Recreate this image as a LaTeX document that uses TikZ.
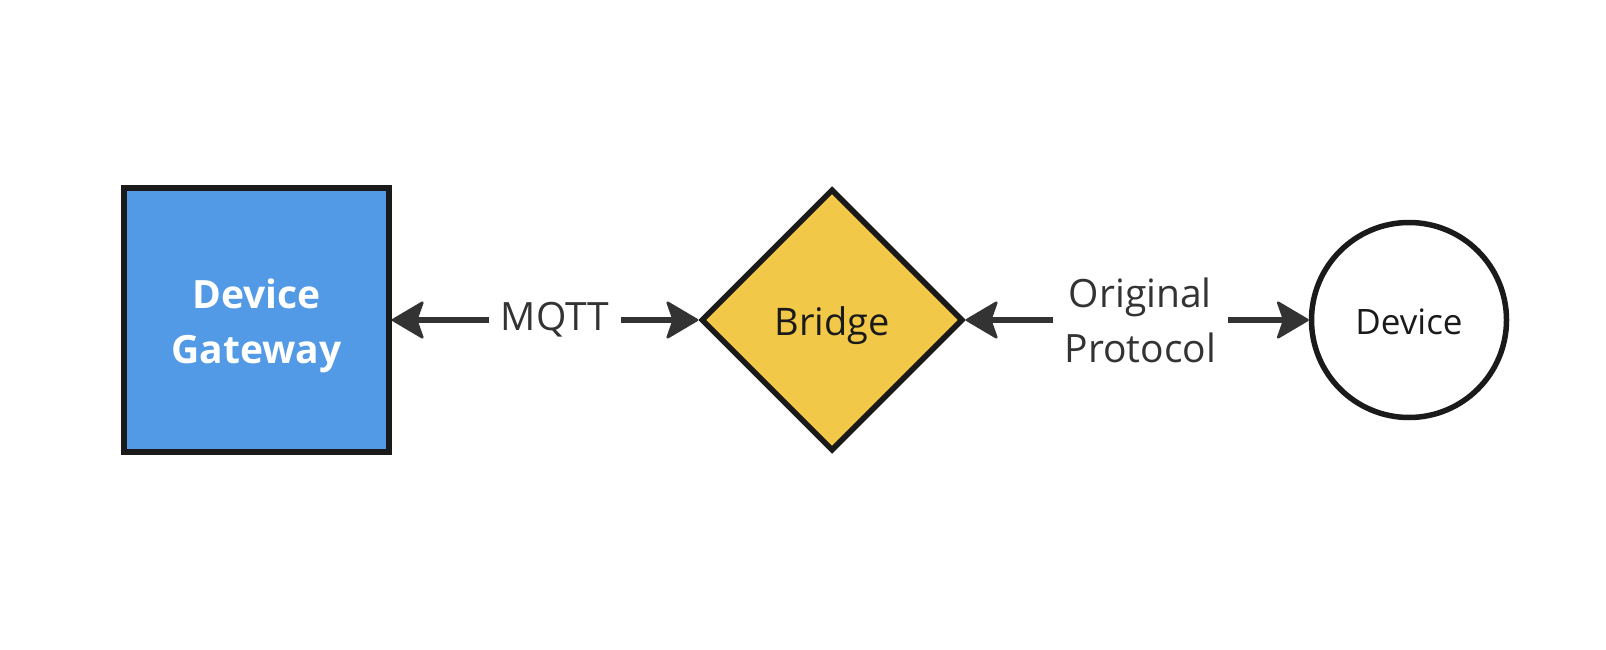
\documentclass[tikz,border=0pt]{standalone}
\usepackage{fontspec}
\setmainfont{Open Sans}
\usetikzlibrary{arrows.meta,shapes.geometric}
\definecolor{gwblue}{RGB}{82,153,230}
\definecolor{bryellow}{RGB}{242,200,72}
\definecolor{strokedark}{RGB}{26,26,26}
\definecolor{arrowgray}{RGB}{51,51,51}
\begin{document}
\begin{tikzpicture}[x=1pt,y=-1pt,
  shapebox/.style={draw=strokedark, line width=5.5pt, inner sep=0pt},
  conn/.style={draw=arrowgray, line width=6pt,
    {Stealth[length=34pt,width=40pt,inset=7pt,round,line width=2.5pt]}-{Stealth[length=34pt,width=40pt,inset=7pt,round,line width=2.5pt]}},
  lbl/.style={fill=white, text=arrowgray, inner xsep=12pt, inner ysep=0pt, align=center, font=\fontsize{39}{55}\selectfont},
]
\useasboundingbox[fill=white] (0,0) rectangle (1606,650);
\node[shapebox, fill=gwblue, minimum width=265pt, minimum height=264pt, text=white,
  font=\fontsize{39}{55}\selectfont\bfseries] (gw) at (256.5,320)
  {\raisebox{12pt}[0pt][0pt]{\begin{tabular}[t]{@{}c@{}}Device\\Gateway\end{tabular}}};
\node[shapebox, diamond, fill=bryellow, minimum width=262pt, minimum height=262pt, text=strokedark,
  font=\fontsize{38}{52}\selectfont] (br) at (832,320) {\raisebox{-15pt}[0pt][0pt]{Bridge}};
\node[shapebox, circle, fill=white, minimum size=195pt, text=strokedark,
  font=\fontsize{35}{48}\selectfont] (dev) at (1409,320) {\raisebox{-14pt}[0pt][0pt]{Device}};
\draw[conn] (gw.east) -- node[lbl, pos=0.533] (l1) {MQTT} (br.west);
\draw[conn] (br.east) -- node[lbl, pos=0.509] (l2) {Original\\Protocol} (dev.west);
\end{tikzpicture}
\end{document}
